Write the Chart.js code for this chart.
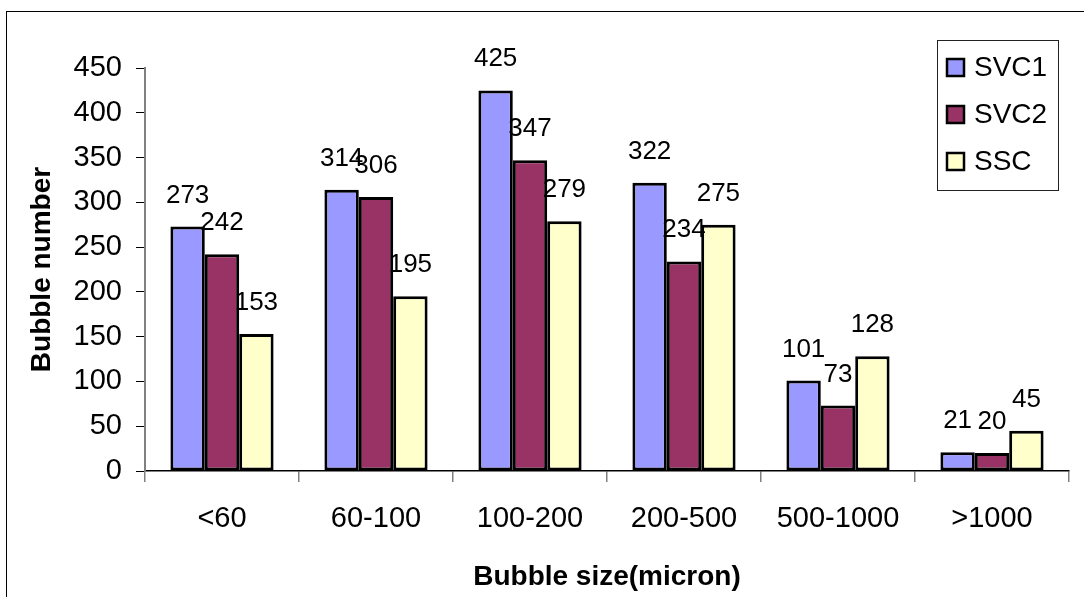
<!DOCTYPE html>
<html>
<head>
<meta charset="utf-8">
<script src="https://cdn.jsdelivr.net/npm/chart.js@4.4.1/dist/chart.umd.min.js"></script>
<style>
  html, body { margin: 0; padding: 0; background: #fff; }
  canvas { display: block; }
</style>
</head>
<body>
<canvas id="bubbleChart" width="1084" height="597"></canvas>
<script>
// Chart data
const categories = ['<60', '60-100', '100-200', '200-500', '500-1000', '>1000'];
const seriesNames = ['SVC1', 'SVC2', 'SSC'];
const svc1Values = [273, 314, 425, 322, 101, 21];
const svc2Values = [242, 306, 347, 234, 73, 20];
const sscValues = [153, 195, 279, 275, 128, 45];
const seriesColors = ['#9999FF', '#993366', '#FFFFCC'];

const FONT = "'Liberation Sans', Arial, sans-serif";

// Thin frame round the whole picture
const framePlugin = {
    id: 'frame',
    beforeDraw(chart) {
        const ctx = chart.ctx;
        ctx.save();
        ctx.fillStyle = '#fff';
        ctx.fillRect(0, 0, chart.width, chart.height);
        ctx.strokeStyle = '#000';
        ctx.lineWidth = 1;
        ctx.strokeRect(6.5, 11.5, 2000, 2000);
        ctx.restore();
    }
};

// Value labels above each bar
const valueLabelPlugin = {
    id: 'valueLabels',
    afterDatasetsDraw(chart) {
        const ctx = chart.ctx;
        ctx.save();
        ctx.font = '26px ' + FONT;
        ctx.fillStyle = '#000';
        ctx.textAlign = 'center';
        ctx.textBaseline = 'alphabetic';
        chart.data.datasets.forEach((ds, i) => {
            chart.getDatasetMeta(i).data.forEach((bar, j) => {
                ctx.fillText(String(ds.data[j]), bar.x, bar.y - 24);
            });
        });
        ctx.restore();
    }
};

// Boxed legend in the top right corner
const boxLegendPlugin = {
    id: 'boxLegend',
    afterDraw(chart) {
        const ctx = chart.ctx;
        ctx.save();
        ctx.strokeStyle = '#222';
        ctx.lineWidth = 1;
        ctx.strokeRect(937.5, 40.5, 121, 150);
        ctx.font = '28px ' + FONT;
        ctx.textAlign = 'left';
        ctx.textBaseline = 'alphabetic';
        chart.data.datasets.forEach((ds, i) => {
            const top = 59 + i * 47;
            ctx.fillStyle = ds.backgroundColor;
            ctx.fillRect(947, top, 17, 17);
            ctx.strokeStyle = '#000';
            ctx.lineWidth = 2.5;
            ctx.strokeRect(947, top, 17, 17);
            ctx.fillStyle = '#000';
            ctx.fillText(ds.label, 974, 76 + i * 47);
        });
        ctx.restore();
    }
};

const seriesValues = [svc1Values, svc2Values, sscValues];

new Chart(document.getElementById('bubbleChart'), {
    type: 'bar',
    data: {
        labels: categories,
        datasets: seriesNames.map((name, i) => ({
            label: name,
            data: seriesValues[i],
            backgroundColor: seriesColors[i],
            borderColor: '#000',
            borderWidth: 3,
            borderSkipped: false,
            categoryPercentage: 0.67,
            barPercentage: 1.0
        }))
    },
    options: {
        responsive: false,
        animation: false,
        devicePixelRatio: 1,
        layout: { padding: { top: 68, right: 15, left: 0, bottom: 0 } },
        plugins: {
            legend: { display: false },
            tooltip: { enabled: false }
        },
        scales: {
            x: {
                afterFit(scale) { scale.height = 126; },
                grid: {
                    display: true,
                    drawOnChartArea: false,
                    offset: true,
                    tickLength: 11,
                    color: '#808080',
                    lineWidth: 1.5
                },
                border: { display: true, color: '#000', width: 1.5 },
                ticks: {
                    color: '#000',
                    font: { family: FONT, size: 29 },
                    padding: 20,
                    maxRotation: 0
                },
                title: {
                    display: true,
                    text: 'Bubble size(micron)',
                    color: '#000',
                    font: { family: FONT, size: 28, weight: 'bold' },
                    padding: { top: 0, bottom: 3 }
                }
            },
            y: {
                min: 0,
                max: 450,
                afterFit(scale) { scale.width = 145; },
                grid: {
                    display: true,
                    drawOnChartArea: false,
                    tickLength: 9,
                    color: '#000',
                    lineWidth: 1
                },
                border: { display: true, color: '#808080', width: 2 },
                ticks: {
                    stepSize: 50,
                    color: '#000',
                    font: { family: FONT, size: 29 },
                    padding: 14
                },
                title: {
                    display: true,
                    text: 'Bubble number',
                    color: '#000',
                    font: { family: FONT, size: 28, weight: 'bold' },
                    padding: { top: 25, bottom: 0 }
                }
            }
        }
    },
    plugins: [framePlugin, valueLabelPlugin, boxLegendPlugin]
});
</script>
</body>
</html>
